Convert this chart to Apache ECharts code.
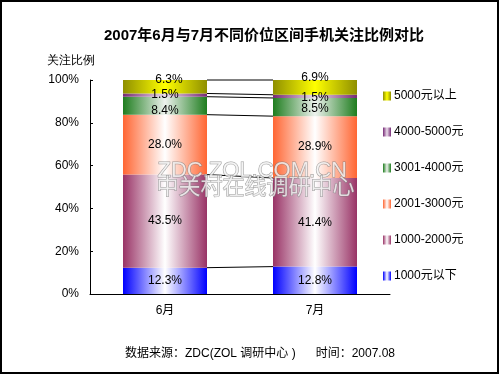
<!DOCTYPE html>
<html>
<head>
<meta charset="utf-8">
<script src="https://cdn.jsdelivr.net/npm/echarts@6/dist/echarts.min.js"></script>
<style>
  html, body { margin: 0; padding: 0; background: #fff; }
  #chart { width: 500px; height: 375px; }
</style>
</head>
<body>
<div id="chart"></div>
<script>
// data
const months = ['6月', '7月'];
const seriesNames = ['1000元以下', '1000-2000元', '2001-3000元', '3001-4000元', '4000-5000元', '5000元以上'];
const june = [12.3, 43.5, 28.0, 8.4, 1.5, 6.3];
const july = [12.8, 41.4, 28.9, 8.5, 1.5, 6.9];
const yTicks = [0, 20, 40, 60, 80, 100];

// edge colour / middle colour of each "pipe" gradient
const edgeColors = ['#0000ff', '#993366', '#ff6633', '#1e7d1e', '#762a76', '#8f8f00'];
const midColors = ['#ffffff', '#ffffff', '#ffffff', '#eef2ee', '#eadcea', '#ffff00'];

const FONT = '"Liberation Sans", "Noto Sans CJK SC", sans-serif';
const BAR_W = 84;

function pipe(i) {
  return {
    type: 'linear', x: 0, y: 0, x2: 1, y2: 0,
    colorStops: [
      { offset: 0, color: edgeColors[i] },
      { offset: 0.5, color: midColors[i] },
      { offset: 1, color: edgeColors[i] }
    ]
  };
}

// little nudges so the crowded labels at the top do not sit on each other
const labelNudge = {
  '5000元以上': [[4, -7], [0, -10]],
  '3001-4000元': [[0, 5], [0, 2]],
  '4000-5000元': [[0, 0], [0, 1]]
};

function cumulative(vals) {
  let s = 0;
  return vals.map((v) => (s += v));
}

const cumJune = cumulative(june);
const cumJuly = cumulative(july);
const connectors = cumJune.map((v, i) => [0, v, cumJuly[i]]);

const barSeries = seriesNames.map((name, i) => ({
  name,
  type: 'bar',
  stack: 'total',
  barWidth: BAR_W,
  itemStyle: { color: pipe(i) },
  label: {
    show: true,
    position: 'inside',
    color: '#000',
    fontSize: 12,
    fontFamily: FONT,
    formatter: (p) => p.value.toFixed(1) + '%'
  },
  data: [june[i], july[i]].map((v, j) => {
    const n = labelNudge[name];
    return n ? { value: v, label: { offset: n[j] } } : v;
  })
}));

const chart = echarts.init(document.getElementById('chart'));
chart.setOption({
  animation: false,
  backgroundColor: '#fff',
  title: {
    text: '2007年6月与7月不同价位区间手机关注比例对比',
    left: 259,
    textAlign: 'center',
    top: 23,
    textStyle: { fontSize: 15, fontWeight: 'bold', color: '#000', fontFamily: FONT }
  },
  grid: { left: 90, right: 110, top: 80, bottom: 81, containLabel: false },
  legend: {
    orient: 'vertical',
    left: 378,
    top: 85,
    itemWidth: 8,
    itemHeight: 9,
    itemGap: 24,
    icon: 'rect',
    data: seriesNames.slice().reverse(),
    textStyle: { fontSize: 12, color: '#000', fontFamily: FONT, padding: [0, 0, 0, -2] }
  },
  xAxis: {
    type: 'category',
    data: months,
    axisLine: { lineStyle: { color: '#000', width: 1 } },
    axisTick: { inside: true, length: 4, lineStyle: { color: '#000' } },
    axisLabel: { color: '#000', fontSize: 12, margin: 11, fontFamily: FONT }
  },
  yAxis: {
    type: 'value',
    min: yTicks[0],
    max: yTicks[yTicks.length - 1],
    interval: 20,
    axisLine: { show: true, lineStyle: { color: '#000', width: 1 } },
    axisTick: { show: true, inside: true, length: 3, lineStyle: { color: '#000' } },
    splitLine: { show: false },
    axisLabel: { color: '#000', fontSize: 12, margin: 11, fontFamily: FONT, formatter: '{value}%' }
  },
  graphic: [
    {
      type: 'rect', z: 100, silent: true,
      shape: { x: 1, y: 1, width: 497, height: 372 },
      style: { fill: 'none', stroke: '#000', lineWidth: 2 }
    },
    {
      type: 'text', left: 47, top: 55,
      style: { text: '关注比例', fontSize: 12, fill: '#000', font: '12px ' + FONT }
    },
    {
      type: 'text', z: 50, silent: true, left: 157, top: 159,
      style: {
        text: 'ZDC.ZOL.COM.CN', font: '22px ' + FONT,
        fill: 'rgba(245,245,245,0.8)', stroke: 'rgba(120,120,120,0.7)', lineWidth: 1
      }
    },
    {
      type: 'text', z: 50, silent: true, left: 156, top: 176,
      style: {
        text: '中关村在线调研中心', font: '22px ' + FONT,
        fill: 'rgba(245,245,245,0.8)', stroke: 'rgba(120,120,120,0.7)', lineWidth: 1
      }
    },
    {
      type: 'text', left: 125, top: 348,
      style: { text: '数据来源：ZDC(ZOL 调研中心 )      时间：2007.08', font: '12px ' + FONT, fill: '#000' }
    }
  ],
  series: barSeries.concat([{
    type: 'custom',
    name: 'connector',
    silent: true,
    z: 1,
    encode: { x: 0, y: 1 },
    data: connectors,
    renderItem: (params, api) => {
      const a = api.coord([0, api.value(1)]);
      const b = api.coord([1, api.value(2)]);
      return {
        type: 'line',
        shape: { x1: a[0] + BAR_W / 2, y1: a[1], x2: b[0] - BAR_W / 2, y2: b[1] },
        style: { stroke: '#000', lineWidth: 1 }
      };
    }
  }])
});
</script>
</body>
</html>
